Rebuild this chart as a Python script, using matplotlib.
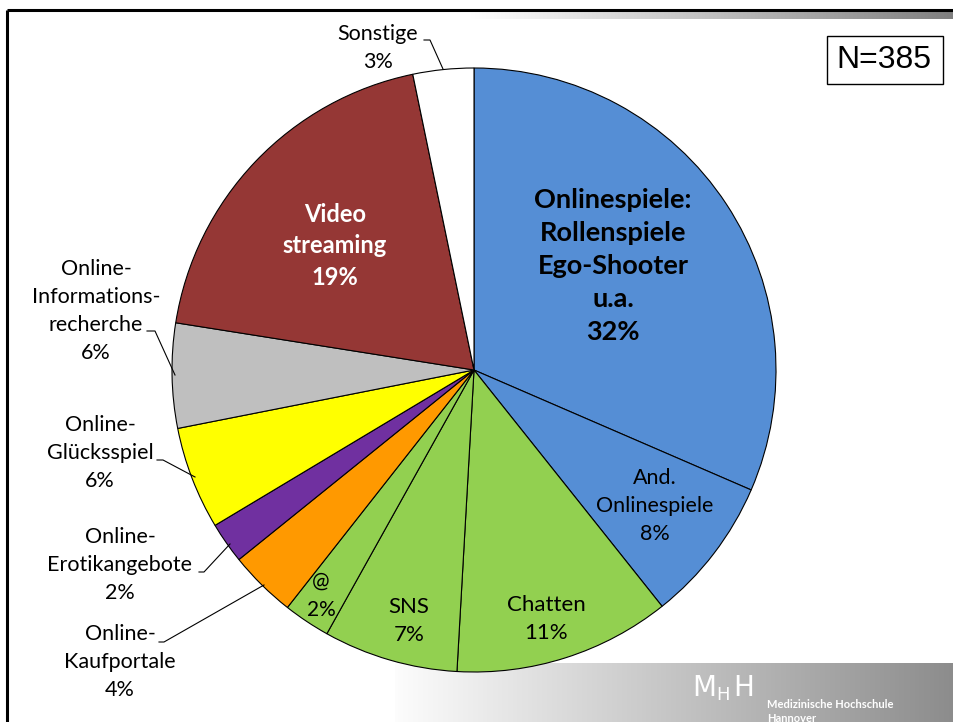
import numpy as np
import matplotlib
matplotlib.use("Agg")
import matplotlib.pyplot as plt
from matplotlib.patches import Rectangle

# ---- data ----
categories = ["Onlinespiele: Rollenspiele Ego-Shooter u.a.", "And. Onlinespiele", "Chatten", "SNS", "@",
              "Online-Kaufportale", "Online-Erotikangebote", "Online-Glücksspiel",
              "Online-Informationsrecherche", "Video streaming", "Sonstige"]
shares = [31.5, 7.8, 11.6, 7.2, 2.5, 3.6, 2.2, 5.5, 5.6, 19.25, 3.25]   # wedge sizes
shown_pct = [32, 8, 11, 7, 2, 4, 2, 6, 6, 19, 3]                       # percentages printed
colors = ["#558ED5", "#558ED5", "#92D050", "#92D050", "#92D050", "#FF9900",
          "#7030A0", "#FFFF00", "#BFBFBF", "#953735", "#FFFFFF"]
sample_n = 385

W, H = 954, 722
fig = plt.figure(figsize=(W / 100, H / 100), dpi=100)
ax = fig.add_axes([0, 0, 1, 1])

def Y(py):
    return H - py

FONT = "Lato"

# slide decoration: bottom gradient band
grad = np.linspace(0.99, 0.55, 256).reshape(1, -1)
grad_img = np.dstack([grad, grad, grad])
ax.imshow(grad_img, extent=(395, W, Y(722), Y(663)), aspect="auto", zorder=0)
# top gradient strip
grad2 = np.linspace(1.0, 0.5, 256).reshape(1, -1)
ax.imshow(np.dstack([grad2, grad2, grad2]), extent=(470, W, Y(19), Y(11)), aspect="auto", zorder=0)
# top and left black lines
ax.plot([7, W], [Y(10), Y(10)], color="black", lw=2.2, solid_capstyle="butt", zorder=1)
ax.plot([7, 7], [Y(10), Y(722)], color="black", lw=2.2, solid_capstyle="butt", zorder=1)

# pie
wedges, _ = ax.pie(shares, colors=colors, startangle=90, counterclock=False,
                   center=(474, Y(370)), radius=302,
                   wedgeprops=dict(edgecolor="black", linewidth=0.8), frame=False)
for w in wedges:
    w.set_zorder(2)

ax.set_xlim(0, W)
ax.set_ylim(0, H)
ax.set_aspect("equal")
ax.axis("off")

def label(x, py, txt, size=15, weight="normal", color="black", ls=1.15):
    ax.text(x, Y(py), txt, ha="center", va="center", fontsize=size, fontweight=weight,
            color=color, family=FONT, linespacing=ls, zorder=5)

p = [f"{v}%" for v in shown_pct]
label(613, 266, "Onlinespiele:\nRollenspiele\nEgo-Shooter\nu.a.\n" + p[0], size=19.5, weight="bold", ls=1.45)
label(655, 506, "And.\nOnlinespiele\n" + p[1], size=15.5, ls=1.5)
label(546, 619, "Chatten\n" + p[2], size=16, ls=1.55)
label(409, 621, "SNS\n" + p[3], size=16, ls=1.55)
label(321, 596, "@\n" + p[4], size=15, ls=1.55)
label(335, 246, "Video\nstreaming\n" + p[9], size=17, weight="bold", color="white", ls=1.45)
label(378, 48, "Sonstige\n" + p[10], size=15.5, ls=1.55)
label(96, 311, "Online-\nInformations-\nrecherche\n" + p[8], size=15.5, ls=1.48)
label(100, 453, "Online-\nGlücksspiel\n" + p[7], size=15.5, ls=1.52)
label(120, 565, "Online-\nErotikangebote\n" + p[6], size=15.5, ls=1.52)
label(120, 662, "Online-\nKaufportale\n" + p[5], size=15.5, ls=1.52)

# leader lines
leaders = [
    [(424, 40), (430, 40), (443, 69)],
    [(147, 331), (155, 331), (175, 375)],
    [(157, 460), (163, 460), (195, 477)],
    [(199, 572), (204, 572), (230, 544)],
    [(159, 642), (164, 642), (264, 585)],
]
for pts in leaders:
    xs = [q[0] for q in pts]
    ys = [Y(q[1]) for q in pts]
    ax.plot(xs, ys, color="black", lw=0.8, zorder=4)

# N box
ax.add_patch(Rectangle((827, Y(84)), 116, 48, facecolor="white", edgecolor="black", lw=1.0, zorder=5))
ax.text(884, Y(60), f"N={sample_n}", ha="center", va="center", fontsize=23,
        family="Liberation Sans", zorder=6)

# MHH logo
ax.text(692, Y(688), "M", ha="left", va="center", fontsize=20, color="white", family="DejaVu Sans", zorder=6)
ax.text(716, Y(695), "H", ha="left", va="center", fontsize=13, color="white", family="DejaVu Sans", zorder=6)
ax.text(733, Y(688), "H", ha="left", va="center", fontsize=20, color="white", family="DejaVu Sans", zorder=6)
ax.text(767, Y(705), "Medizinische Hochschule", ha="left", va="center", fontsize=8,
        color="white", fontweight="bold", family=FONT, zorder=6)
ax.text(767, Y(718), "Hannover", ha="left", va="center", fontsize=8,
        color="white", fontweight="bold", family=FONT, zorder=6)

fig.savefig("out.png", dpi=100, facecolor="white")
